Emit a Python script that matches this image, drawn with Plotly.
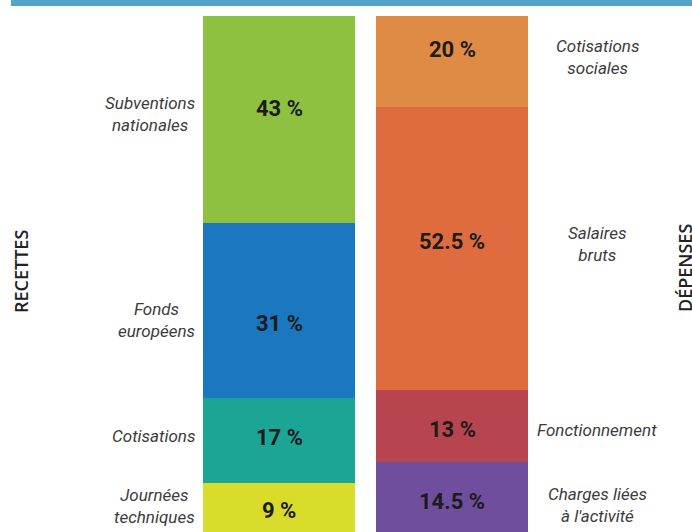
import numpy as np
import plotly.graph_objects as go

# ---- data (top to bottom in each column) ----
sides = ["Recettes", "Dépenses"]

recettes_labels = ["Subventions<br>nationales", "Fonds<br>européens", "Cotisations", "Journées<br>techniques"]
recettes_pct = ["43 %", "31 %", "17 %", "9 %"]
recettes_drawn = [40.1, 33.9, 16.5, 9.5]      # segment lengths as drawn in the picture (share of visible bar)

depenses_labels = ["Cotisations<br>sociales", "Salaires<br>bruts", "Fonctionnement", "Charges liées<br>à l'activité"]
depenses_pct = ["20 %", "52.5 %", "13 %", "14.5 %"]
depenses_drawn = [17.6, 54.8, 14.0, 13.6]

# ---- styles ----
recettes_colors = ["#8dc13f", "#1a77c0", "#1aa594", "#d9dc2b"]
depenses_colors = ["#e08b45", "#de6c3f", "#b8444f", "#6f4e9e"]
W, H = 692, 532
TOP = 16
pct_shift_rec = [11, -13, 3, -3]
pct_shift_dep = [12, 7, -4, -5]
lab_shift_rec = [5, -10, 4, 1]
lab_shift_dep = [4, 4, -4, -8]

fig = go.Figure()
for i in range(4):
    fig.add_trace(go.Bar(
        x=sides,
        y=[recettes_drawn[i], depenses_drawn[i]],
        marker=dict(color=[recettes_colors[i], depenses_colors[i]], line=dict(width=0)),
        hoverinfo="skip",
        showlegend=False,
    ))

annotations = []
rec_cum = np.cumsum(recettes_drawn)
dep_cum = np.cumsum(depenses_drawn)
for i in range(4):
    rmid = rec_cum[i] - recettes_drawn[i] / 2
    dmid = dep_cum[i] - depenses_drawn[i] / 2
    annotations.append(dict(x=sides[0], y=rmid, xref="x", yref="y", text="<b>" + recettes_pct[i] + "</b>",
                            showarrow=False, yshift=pct_shift_rec[i],
                            font=dict(family="Roboto", size=22, color="#1c1c1c")))
    annotations.append(dict(x=sides[1], y=dmid, xref="x", yref="y", text="<b>" + depenses_pct[i] + "</b>",
                            showarrow=False, yshift=pct_shift_dep[i],
                            font=dict(family="Roboto", size=22, color="#1c1c1c")))
    annotations.append(dict(x=197 / W, y=rmid, xref="paper", yref="y", text="<i>" + recettes_labels[i] + "</i>",
                            showarrow=False, xanchor="right", align="center", yshift=lab_shift_rec[i],
                            font=dict(family="Roboto", size=17, color="#3c3c3c")))
    annotations.append(dict(x=597 / W, y=dmid, xref="paper", yref="y", text="<i>" + depenses_labels[i] + "</i>",
                            showarrow=False, xanchor="center", align="center", yshift=lab_shift_dep[i],
                            font=dict(family="Roboto", size=17, color="#3c3c3c")))

plot_h = H - TOP
annotations.append(dict(x=21 / W, y=1 - (272 - TOP) / plot_h, xref="paper", yref="paper", text="RECETTES",
                        textangle=-90, showarrow=False, xanchor="center", yanchor="middle",
                        font=dict(family="Open Sans", size=18, color="#222222", weight=600)))
annotations.append(dict(x=685 / W, y=1 - (268 - TOP) / plot_h, xref="paper", yref="paper", text="DÉPENSES",
                        textangle=-90, showarrow=False, xanchor="center", yanchor="middle",
                        font=dict(family="Open Sans", size=18, color="#222222", weight=600)))

center0, unit = 279, 173
fig.update_layout(
    width=W, height=H,
    margin=dict(l=0, r=0, t=TOP, b=0),
    barmode="stack",
    bargap=1 - 152 / unit,
    paper_bgcolor="white", plot_bgcolor="white",
    xaxis=dict(type="category", range=[-center0 / unit, (W - center0) / unit], visible=False, fixedrange=True),
    yaxis=dict(range=[100, 0], visible=False, fixedrange=True),
    annotations=annotations,
    shapes=[dict(type="rect", xref="paper", yref="paper", x0=11 / W, x1=1.0,
                 y0=1 + 10 / plot_h, y1=1 + TOP / plot_h, fillcolor="#53a4c6", line=dict(width=0), layer="above")],
)

fig.write_html("out.html", config={"displayModeBar": False},
               post_script="document.body.style.margin='0';document.body.style.overflow='hidden';")
